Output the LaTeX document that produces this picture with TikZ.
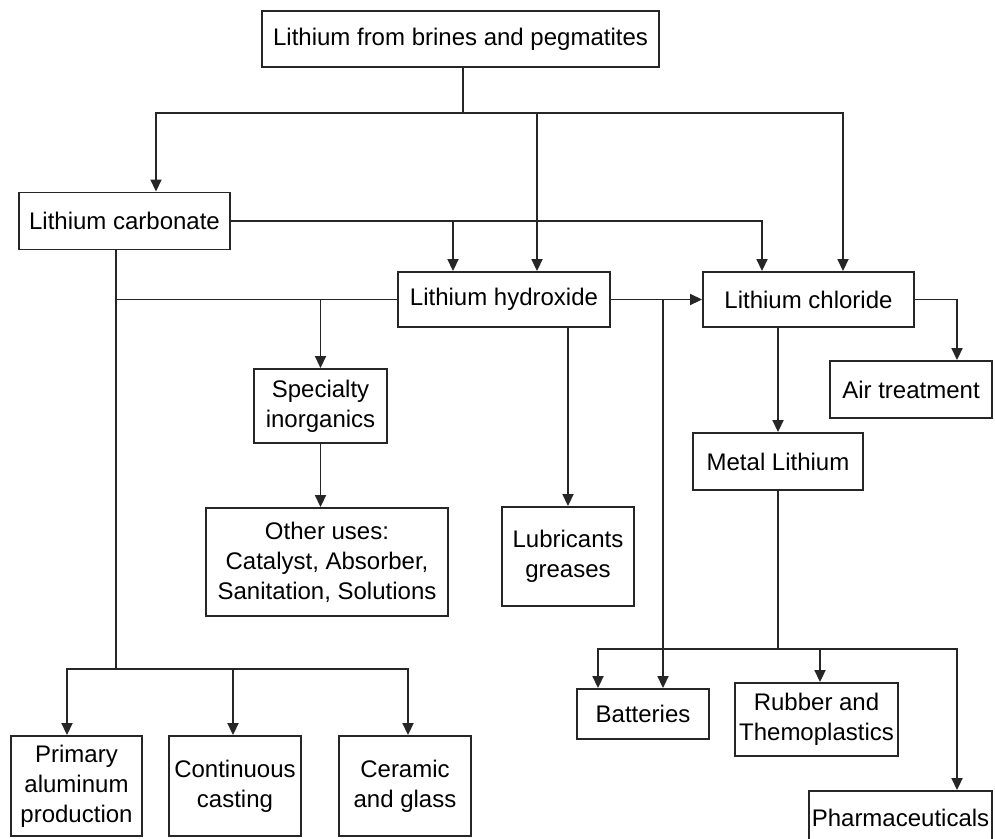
\documentclass[tikz,border=0pt]{standalone}
\usepackage{fontspec}
\setmainfont{Liberation Sans}
\usetikzlibrary{arrows.meta}
\begin{document}
\begin{tikzpicture}[x=1pt, y=-1pt,
    box/.style={draw=black!85, line width=1.9pt, align=center, inner sep=0pt, font=\fontsize{24}{30}\selectfont},
    link/.style={draw=black!85, line width=1.8pt},
    arr/.style={link, -{Triangle[width=11pt,length=12pt]}}
]
\useasboundingbox (0,0) rectangle (995,838);

%% boxes
\node[box, minimum width=397, minimum height=56] (src)   at (460.5,39)  {Lithium from brines and pegmatites};
\node[box, minimum width=211, minimum height=57] (carb)  at (124.5,221) {Lithium carbonate};
\node[box, minimum width=212, minimum height=55] (hydr)  at (504,299.5) {Lithium hydroxide};
\node[box, minimum width=211, minimum height=55] (chlor) at (808.5,299.5) {Lithium chloride};
\node[box, minimum width=133, minimum height=74] (spec)  at (320.5,406) {Specialty\\inorganics};
\node[box, minimum width=242, minimum height=108] (other) at (327,562) {Other uses:\\Catalyst, Absorber,\\Sanitation, Solutions};
\node[box, minimum width=132, minimum height=99] (lubr)  at (568,556.5) {Lubricants\\greases};
\node[box, minimum width=162, minimum height=57] (air)   at (911,389.5) {Air treatment};
\node[box, minimum width=170, minimum height=57] (metal) at (778,461.5) {Metal Lithium};
\node[box, minimum width=131, minimum height=100] (prim) at (76.5,786) {Primary\\aluminum\\production};
\node[box, minimum width=132, minimum height=100] (cont) at (235,786)  {Continuous\\casting};
\node[box, minimum width=132, minimum height=100] (cera) at (405,786)  {Ceramic\\and glass};
\node[box, minimum width=132, minimum height=50] (batt)  at (643,714)  {Batteries};
\node[box, minimum width=163, minimum height=73] (rubb)  at (816.5,719.5) {Rubber and\\Themoplastics};
\node[box, minimum width=183, minimum height=54] (phar)  at (900.5,818) {Pharmaceuticals};

%% junctions
\coordinate (sp) at (463,113);
\coordinate (cl) at (116,669);
\coordinate (ml) at (778,649);
\coordinate (bx) at ([xshift=20]batt.north);

%% from the source
\draw[link] (src.south -| sp) -- (sp);
\draw[arr] (sp) -| ([xshift=31.5]carb.north);
\draw[arr] (sp) -| ([xshift=33]hydr.north);
\draw[arr] (sp) -| ([xshift=34.5]chlor.north);

%% lithium carbonate
\draw[arr] (carb.east) -| ([xshift=-46.5]chlor.north);
\draw[arr] ([xshift=-51]hydr.north |- carb.east) -- ([xshift=-51]hydr.north);
\draw[link] (carb.south -| cl) -- (cl);
\draw[arr] (cl) -| ([xshift=-9.5]prim.north);
\draw[arr] (cl) -| ([xshift=-2]cont.north);
\draw[arr] (cl) -| ([xshift=3]cera.north);

%% lithium hydroxide
\draw[link] (hydr.west) -- (hydr.west -| cl);
\draw[arr] (hydr.west -| spec.north) -- (spec.north);
\draw[arr] (spec.south) -- (spec.south |- other.north);
\draw[arr] (lubr.north |- hydr.south) -- (lubr.north);
\draw[arr] (hydr.east) -- (chlor.west);
\draw[arr] (bx |- hydr.east) -- (bx);

%% lithium chloride
\draw[arr] (chlor.east) -| ([xshift=46]air.north);
\draw[arr] (metal.north |- chlor.south) -- (metal.north);
\draw[link] (metal.south) -- (ml);
\draw[arr] (ml) -| ([xshift=-45]batt.north);
\draw[arr] (ml) -| ([xshift=3.5]rubb.north);
\draw[arr] (ml) -| ([xshift=56.5]phar.north);
\end{tikzpicture}
\end{document}
